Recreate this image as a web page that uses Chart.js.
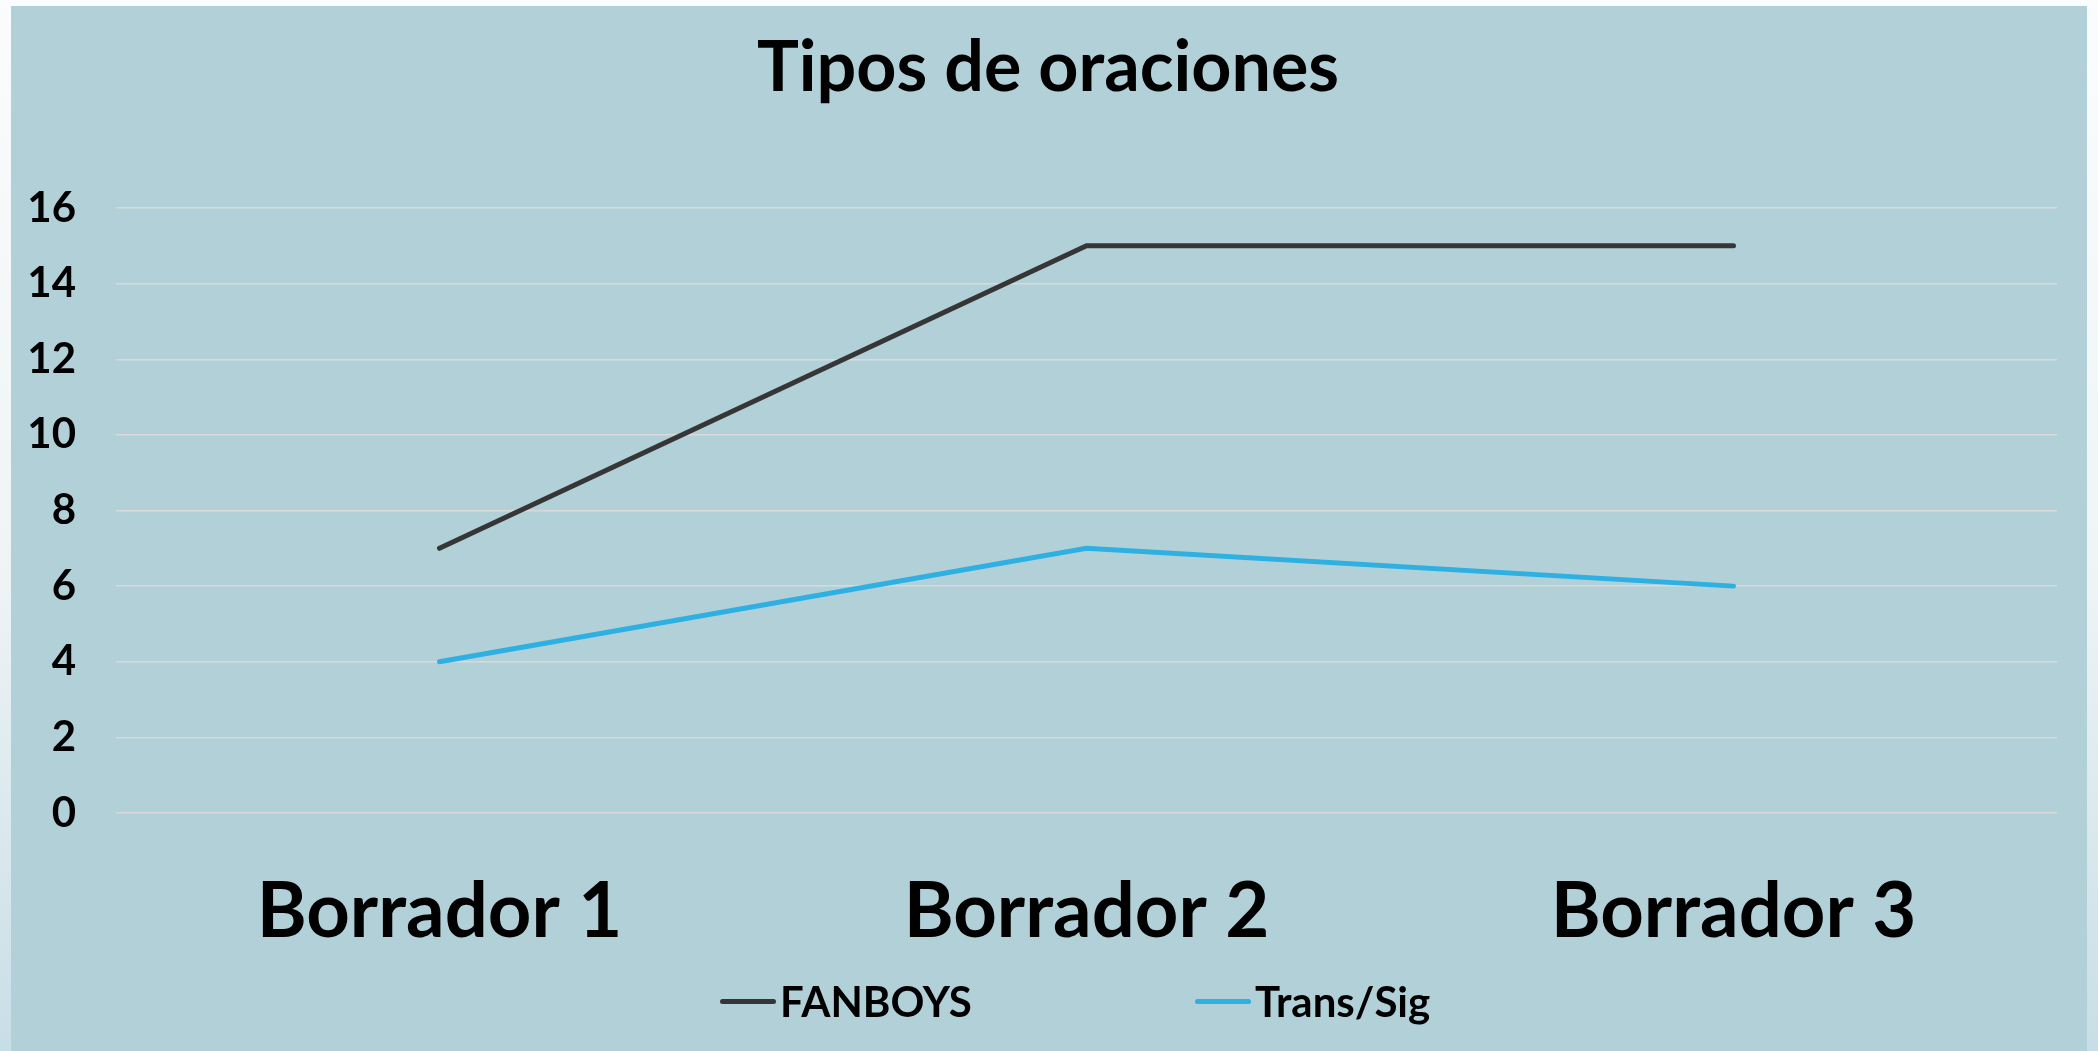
<!DOCTYPE html>
<html lang="es">
<head>
<meta charset="UTF-8">
<title>Tipos de oraciones</title>
<style>
    * { margin: 0; padding: 0; }
    html, body { width: 2098px; height: 1051px; overflow: hidden; }
    body {
        position: relative;
        background: linear-gradient(180deg, #fafcfd 0%, #eef4f6 55%, #c8dee6 100%);
        font-family: Lato, "Open Sans", sans-serif;
    }
    .box {
        position: absolute;
        left: 11px;
        top: 6px;
        width: 2076px;
        height: 1045px;
        background: #b2d0d8;
    }
    .legend {
        position: absolute;
        left: 0;
        top: 975px;
        width: 2098px;
        height: 52px;
    }
    .item { position: absolute; top: 0; display: flex; align-items: center; height: 52px; }
    .item span.mark { display: inline-block; width: 56px; height: 5px; border-radius: 3px; margin-right: 4px; }
    .item span.txt { font: 700 42px Lato, sans-serif; color: #000; }
</style>
</head>
<body>
<div class="box">
    <canvas id="chart" width="2076" height="1045"></canvas>
</div>
<div class="legend" id="legend"></div>
<script src="https://cdn.jsdelivr.net/npm/chart.js@4/dist/chart.umd.min.js"></script>
<script>
    // datos
    var categorias = ['Borrador 1', 'Borrador 2', 'Borrador 3'];
    var fanboys = [7, 15, 15];
    var transSig = [4, 7, 6];
    var nombres = ['FANBOYS', 'Trans/Sig'];
    var colores = ['#363636', '#2eb0e3'];
    var yMax = 16, yPaso = 2;

    var ctx = document.getElementById('chart').getContext('2d');
    var chart = new Chart(ctx, {
        type: 'line',
        data: {
            labels: categorias,
            datasets: [{
                label: nombres[0],
                data: fanboys,
                borderColor: colores[0],
                backgroundColor: colores[0],
                borderWidth: 5,
                pointRadius: 0,
                borderCapStyle: 'round',
                tension: 0
            }, {
                label: nombres[1],
                data: transSig,
                borderColor: colores[1],
                backgroundColor: colores[1],
                borderWidth: 5,
                pointRadius: 0,
                borderCapStyle: 'round',
                tension: 0
            }]
        },
        options: {
            responsive: false,
            animation: false,
            layout: { padding: { left: 0, right: 2, top: 0, bottom: 0 } },
            scales: {
                x: {
                    offset: true,
                    grid: { display: false, drawTicks: false },
                    border: { display: false },
                    ticks: { color: '#000', padding: 54, font: { family: 'Lato', weight: 700, size: 76 } },
                    afterFit: function (s) { s.height = 238; }
                },
                y: {
                    min: 0,
                    max: yMax,
                    grid: { color: '#d9d9d9', lineWidth: 1.5, drawTicks: false },
                    border: { display: false },
                    ticks: { stepSize: yPaso, color: '#000', padding: 40, font: { family: 'Lato', weight: 700, size: 42 } },
                    afterFit: function (s) { s.width = 105; }
                },
                // eje vacio a la derecha solo para dejar margen
                margen: {
                    position: 'right',
                    grid: { display: false, drawTicks: false },
                    border: { display: false },
                    ticks: { display: false },
                    afterFit: function (s) { s.width = 28; }
                }
            },
            plugins: {
                legend: { display: false },
                tooltip: { enabled: false },
                title: {
                    display: true,
                    text: 'Tipos de oraciones',
                    color: '#000',
                    font: { family: 'Lato', weight: 700, size: 70 },
                    padding: { top: 20, bottom: 98 }
                }
            }
        }
    });

    // leyenda en html, posiciones como en el original
    var posLeyenda = [720, 1195];
    var leyenda = document.getElementById('legend');
    nombres.forEach(function (n, i) {
        var it = document.createElement('div');
        it.className = 'item';
        it.style.left = posLeyenda[i] + 'px';
        it.innerHTML = '<span class="mark" style="background:' + colores[i] + '"></span><span class="txt">' + n + '</span>';
        leyenda.appendChild(it);
    });
</script>
</body>
</html>
